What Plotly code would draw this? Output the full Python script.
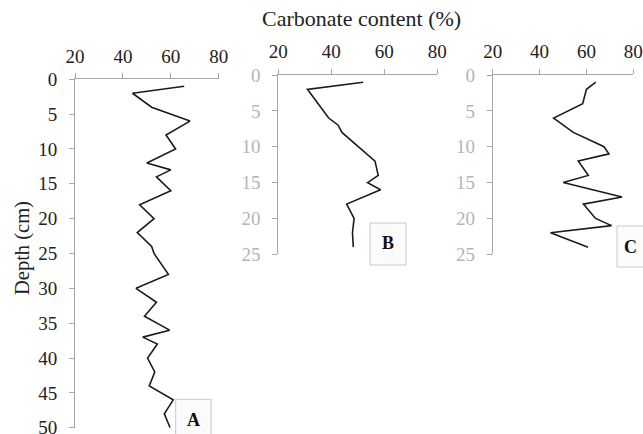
import plotly.graph_objects as go

# Carbonate content (%) against depth (cm) for three cores
depth_a = [1, 2, 4, 6, 8, 10, 12, 13, 14, 16, 18, 20, 22, 24, 25, 28, 30, 32, 34, 36, 37, 38, 40, 42, 44, 46, 48, 50]
carb_a = [65.6, 44, 52, 68, 58, 62, 50, 60, 54, 60, 47, 53, 46, 52, 53, 59, 45.5, 54, 49, 59.5, 48.3, 54.4, 50.3, 53.3, 51, 61, 57.3, 59.7]

depth_b = [1, 2, 6, 7, 8, 12, 14, 15, 16, 18, 20, 22, 24]
carb_b = [52, 31, 39, 42.6, 44, 56.5, 57.7, 53.7, 58.6, 45.8, 48.6, 48, 48.3]

depth_c = [1, 2, 4, 6, 8, 10, 11, 12, 14, 15, 17, 18, 20, 21, 22, 24]
carb_c = [64, 60, 58.4, 46, 54.4, 67.5, 69.6, 56.5, 60.8, 50.1, 75.2, 58.7, 63.9, 70.7, 44.7, 60.7]

x_ticks = [20, 40, 60, 80]
depth_ticks_a = list(range(0, 51, 5))
depth_ticks_bc = list(range(0, 26, 5))
panel_labels = ["A", "B", "C"]

W, H = 643, 434
SERIF = "Liberation Serif"
AXIS_GREY = "#a6a6a6"
LINE = "#1c1c1c"


def px_x(v):
    return v / W


def px_y(v):
    return 1 - v / H


fig = go.Figure()

cores = [
    (depth_a, carb_a, "x", "y"),
    (depth_b, carb_b, "x2", "y2"),
    (depth_c, carb_c, "x3", "y3"),
]
for d, c, xa, ya in cores:
    fig.add_trace(go.Scatter(x=c, y=d, mode="lines", xaxis=xa, yaxis=ya,
                             line=dict(color=LINE, width=1.6), showlegend=False,
                             hoverinfo="skip", cliponaxis=False))

# panel frames in pixels: (left, right, top, bottom)
frames = [
    (75, 218.7, 79.3, 427.7),
    (278.3, 437.3, 75, 254.3),
    (492.7, 633.3, 75, 254.3),
]
depth_ranges = [[50, 0], [25, 0], [25, 0]]
depth_tickvals = [depth_ticks_a, depth_ticks_bc, depth_ticks_bc]
ylabel_colors = ["#222222", "#b5b5b5", "#b5b5b5"]

layout = dict(
    width=W, height=H,
    margin=dict(l=0, r=0, t=0, b=0),
    paper_bgcolor="white", plot_bgcolor="white",
    font=dict(family=SERIF, color="#222222"),
    showlegend=False,
)
for i, (l, r, t, b) in enumerate(frames):
    sfx = "" if i == 0 else str(i + 1)
    layout["xaxis" + sfx] = dict(
        domain=[px_x(l), px_x(r)], range=[20, 80], side="top",
        anchor="y" + sfx, tickvals=x_ticks, ticks="outside", ticklen=5,
        tickcolor=AXIS_GREY, showline=True, linecolor=AXIS_GREY, linewidth=1,
        showgrid=False, zeroline=False, ticklabelstandoff=3, automargin=False,
        ticklabeloverflow="allow",
        tickfont=dict(family=SERIF, size=19, color="#222222"),
    )
    layout["yaxis" + sfx] = dict(
        domain=[px_y(b), px_y(t)], range=depth_ranges[i],
        anchor="x" + sfx, tickvals=depth_tickvals[i], ticks="outside", ticklen=5,
        tickcolor=AXIS_GREY, showline=True, linecolor=AXIS_GREY, linewidth=1,
        showgrid=False, zeroline=False, ticklabelstandoff=8, automargin=False,
        ticklabeloverflow="allow",
        tickfont=dict(family=SERIF, size=19, color=ylabel_colors[i]),
    )
fig.update_layout(**layout)

# panel label boxes (left, right, top, bottom in px) and letter centres
boxes = [
    (175.7, 211, 399.3, 445),
    (370, 406, 223, 265),
    (617, 650, 226, 267),
]
letter_pos = [(193, 420), (388, 243), (630, 247)]
for (l, r, t, b), (lx, ly), lab in zip(boxes, letter_pos, panel_labels):
    fig.add_shape(type="rect", xref="paper", yref="paper",
                  x0=px_x(l), x1=px_x(r), y0=px_y(b), y1=px_y(t),
                  line=dict(color="#c8c8c8", width=1), fillcolor="#fbfbfb",
                  layer="above")
    fig.add_annotation(xref="paper", yref="paper", x=px_x(lx), y=px_y(ly),
                       text="<b>%s</b>" % lab, showarrow=False,
                       xanchor="center", yanchor="middle",
                       font=dict(family=SERIF, size=18, color="#111111"))

fig.add_annotation(xref="paper", yref="paper", x=px_x(361), y=px_y(18),
                   text="Carbonate content (%)", showarrow=False,
                   xanchor="center", yanchor="middle",
                   font=dict(family=SERIF, size=22, color="#222222"))
fig.add_annotation(xref="paper", yref="paper", x=px_x(22), y=px_y(248),
                   text="Depth (cm)", showarrow=False, textangle=-90,
                   xanchor="center", yanchor="middle",
                   font=dict(family=SERIF, size=20.5, color="#222222"))

fig.write_html("out.html")
